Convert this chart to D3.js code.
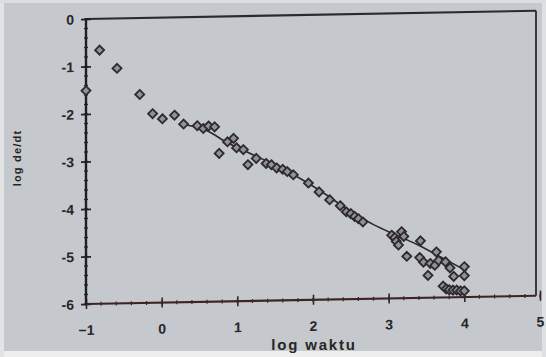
<!DOCTYPE html>
<html>
<head>
<meta charset="utf-8">
<script src="https://cdn.jsdelivr.net/npm/d3@7/dist/d3.min.js"></script>
<style>
  html, body { margin: 0; padding: 0; background: #e6e7e8; }
  svg { display: block; }
  text { font-family: "Liberation Sans", Arial, sans-serif; font-weight: bold; fill: #262626; }
</style>
</head>
<body>
<svg id="chart" width="546" height="357"></svg>
<script>
// Measured points: log of time vs log of strain rate
const logTime = [
  -1.00, -0.82, -0.59, -0.29, -0.12, 0.01, 0.17, 0.29, 0.47, 0.55,
  0.62, 0.70, 0.76, 0.87, 0.95, 0.99, 1.08, 1.14, 1.25, 1.38,
  1.45, 1.52, 1.60, 1.66, 1.74, 1.94, 2.08, 2.22, 2.36, 2.44,
  2.50, 2.55, 2.60, 2.66, 3.04, 3.08, 3.10, 3.17, 3.13, 3.20,
  3.24, 3.42, 3.41, 3.46, 3.52, 3.55, 3.63, 3.61, 3.66, 3.75,
  3.81, 3.86, 4.00, 4.00, 3.72, 3.76, 3.80, 3.85, 3.90, 3.95, 4.00
];
const logRate = [
  -1.51, -0.66, -1.05, -1.61, -2.02, -2.13, -2.06, -2.25, -2.29, -2.35,
  -2.30, -2.32, -2.88, -2.64, -2.57, -2.77, -2.81, -3.13, -3.00, -3.11,
  -3.14, -3.21, -3.24, -3.29, -3.36, -3.54, -3.73, -3.90, -4.03, -4.16,
  -4.20, -4.26, -4.31, -4.38, -4.67, -4.72, -4.80, -4.60, -4.88, -4.70,
  -5.12, -4.80, -5.15, -5.25, -5.53, -5.28, -5.04, -5.32, -5.22, -5.25,
  -5.38, -5.56, -5.36, -5.55, -5.76, -5.82, -5.84, -5.85, -5.85, -5.87, -5.87
];

// Fitted trend through the data
const fitTime = [0.30, 0.60, 0.86, 1.10, 1.50, 1.83, 2.20, 2.49, 2.80, 3.10, 3.37, 3.70, 4.03];
const fitRate = [-2.26, -2.40, -2.65, -2.84, -3.15, -3.44, -3.82, -4.15, -4.44, -4.67, -4.87, -5.16, -5.45];

const xTicks = [-1, 0, 1, 2, 3, 4, 5];
const yTicks = [0, -1, -2, -3, -4, -5, -6];
const xTitle = "log waktu";
const yTitle = "log de/dt";

const svg = d3.select("#chart");
const W = 546, H = 357;

// paper background
svg.append("rect").attr("width", W).attr("height", H).attr("fill", "#c5c8cc");
svg.append("rect").attr("x", 0).attr("y", 351).attr("width", W).attr("height", 6).attr("fill", "#eeeeee");
svg.append("rect").attr("x", 0).attr("y", 0).attr("width", 4).attr("height", H).attr("fill", "#e2e3e4");
svg.append("rect").attr("x", 542).attr("y", 0).attr("width", 4).attr("height", H).attr("fill", "#dfe0e1");
svg.append("rect").attr("x", 0).attr("y", 0).attr("width", W).attr("height", 3).attr("fill", "#dcdde0");

const plotLeft = 86, plotRight = 540, plotTop = 19, plotBottom = 304;

const x = d3.scaleLinear().domain([-1, 5]).range([plotLeft, plotRight]);
const y = d3.scaleLinear().domain([-6, 0]).range([plotBottom, plotTop]);

// the printed page is slightly slanted
const g = svg.append("g")
  .attr("transform", `translate(${plotLeft},0) skewY(-1.05) translate(${-plotLeft},0)`);

// frame top and right
g.append("line").attr("x1", plotLeft).attr("x2", plotRight - 4).attr("y1", plotTop).attr("y2", plotTop)
  .attr("stroke", "#2b2b2d").attr("stroke-width", 2.2);
g.append("line").attr("x1", plotRight - 4).attr("x2", plotRight - 4).attr("y1", plotTop).attr("y2", plotBottom)
  .attr("stroke", "#2b2b2d").attr("stroke-width", 1.8);

// minor ticks crossing the axes
const xMinor = d3.range(-1, 5.001, 0.2);
const yMinor = d3.range(-6, 0.001, 0.2);
g.append("g").selectAll("line").data(xMinor).join("line")
  .attr("x1", d => x(d)).attr("x2", d => x(d))
  .attr("y1", plotBottom - 2).attr("y2", plotBottom + 2)
  .attr("stroke", "#3a2a2a").attr("stroke-width", 1.2);
g.append("g").selectAll("line").data(yMinor).join("line")
  .attr("x1", plotLeft - 2).attr("x2", plotLeft + 2)
  .attr("y1", d => y(d)).attr("y2", d => y(d))
  .attr("stroke", "#2a2a2a").attr("stroke-width", 1.2);

// axes built with d3-axis; major ticks cross the line
const xAxis = g.append("g").attr("transform", `translate(0,${plotBottom})`)
  .call(d3.axisBottom(x).tickValues(xTicks).tickSize(5).tickFormat(d3.format("d")));
xAxis.select(".domain").remove();
xAxis.selectAll(".tick line").attr("y1", -5).attr("stroke", "#3a2424").attr("stroke-width", 1.6);
xAxis.selectAll(".tick text").attr("dy", null).attr("y", 31)
  .style("font-size", "14px").attr("fill", "#2a2a2a");

const yAxis = g.append("g").attr("transform", `translate(${plotLeft},0)`)
  .call(d3.axisLeft(y).tickValues(yTicks).tickSize(5).tickFormat(d => d === 0 ? "0" : "-" + Math.abs(d)));
yAxis.select(".domain").remove();
yAxis.selectAll(".tick line").attr("x1", 5).attr("x2", -5).attr("stroke", "#222").attr("stroke-width", 1.6);
yAxis.selectAll(".tick text").attr("x", -12).attr("dy", "0.35em")
  .style("font-size", "14px").attr("fill", "#2a2a2a");

// axis lines
g.append("line").attr("x1", plotLeft).attr("x2", plotRight - 4).attr("y1", plotBottom).attr("y2", plotBottom)
  .attr("stroke", "#3b2526").attr("stroke-width", 2.2);
g.append("line").attr("x1", plotLeft).attr("x2", plotLeft).attr("y1", plotTop - 1).attr("y2", plotBottom)
  .attr("stroke", "#1f1f22").attr("stroke-width", 2.4);

// fitted curve
const fit = fitTime.map((t, i) => [t, fitRate[i]]);
g.append("path").datum(fit)
  .attr("d", d3.line().x(d => x(d[0])).y(d => y(d[1])).curve(d3.curveMonotoneX))
  .attr("fill", "none").attr("stroke", "#2a2a2c").attr("stroke-width", 1.6);

// diamond markers
const pts = logTime.map((t, i) => [t, logRate[i]]);
const diamond = d3.symbol().type(d3.symbolDiamond2).size(52);
g.append("g").selectAll("path").data(pts).join("path")
  .attr("transform", d => `translate(${x(d[0])},${y(d[1])})`)
  .attr("d", diamond)
  .attr("fill", "#929195")
  .attr("stroke", "#2c2a2d")
  .attr("stroke-width", 1.8);

// titles
svg.append("text").attr("x", 314).attr("y", 350).attr("text-anchor", "middle")
  .style("font-size", "15px").style("letter-spacing", "1.8px").text(xTitle);
svg.append("text").attr("transform", "translate(21,158) rotate(-90)")
  .attr("text-anchor", "middle").style("font-size", "11px").style("letter-spacing", "1.2px").text(yTitle);
</script>
</body>
</html>
